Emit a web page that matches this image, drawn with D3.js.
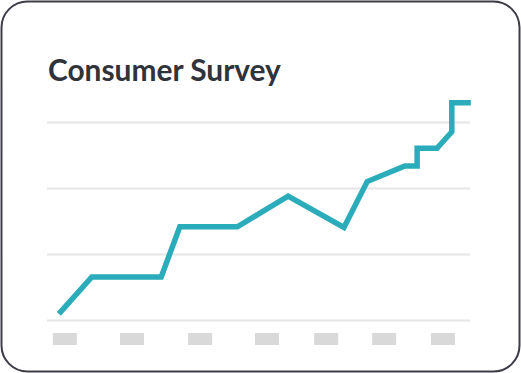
<!DOCTYPE html>
<html lang="en">
<head>
<meta charset="UTF-8">
<title>Consumer Survey</title>
<style>
  html, body { margin: 0; padding: 0; background: #fff; }
  svg { display: block; }
</style>
</head>
<body>
<svg id="chart" width="521" height="373"></svg>
<script src="https://cdnjs.cloudflare.com/ajax/libs/d3/7.8.5/d3.min.js"></script>
<script>
// values (x on a 0..100 time scale, y on a 0..100 score scale)
let xs     = [2.8, 10.6, 27, 31.4, 45, 57, 70.2, 75.7, 84.6, 87.5, 87.5, 92.2, 95.7, 95.7, 100.2];
let scores = [22, 33.2, 33.2, 48.4, 48.4, 57.7, 48.2, 62.1, 66.8, 66.8, 72.2, 72.2, 77.2, 86, 86];
let gridValues = [20, 40, 60, 80];
// placeholder x labels (empty grey blocks)
let labelPos = [4.2, 20.1, 36.2, 52, 66, 79.7, 93.6];
let title = "Consumer Survey";

let width = 521, height = 373;
let svg = d3.select("#chart");

// card
svg.append("rect")
  .attr("x", 1.5).attr("y", 1.5)
  .attr("width", width - 3).attr("height", height - 3)
  .attr("rx", 26).attr("ry", 26)
  .attr("fill", "#fff")
  .attr("stroke", "#3d3c47")
  .attr("stroke-width", 2);

let x = d3.scaleLinear().domain([0, 100]).range([47, 470]);
let y = d3.scaleLinear().domain([20, 80]).range([320.5, 122.5]);

// gridlines
svg.append("g")
  .selectAll("line")
  .data(gridValues)
  .enter()
  .append("line")
  .attr("x1", x(0)).attr("x2", x(100))
  .attr("y1", d => y(d)).attr("y2", d => y(d))
  .attr("stroke", "#e6e6e6")
  .attr("stroke-width", 2);

// label placeholders
svg.append("g")
  .selectAll("rect")
  .data(labelPos)
  .enter()
  .append("rect")
  .attr("x", d => x(d) - 12)
  .attr("y", 333)
  .attr("width", 24)
  .attr("height", 12)
  .attr("fill", "#d9d9d9");

// line
let pts = xs.map((v, i) => [v, scores[i]]);
let line = d3.line()
  .x(d => x(d[0]))
  .y(d => y(d[1]));

svg.append("path")
  .attr("d", line(pts))
  .attr("fill", "none")
  .attr("stroke", "#2aacbb")
  .attr("stroke-width", 5.5)
  .attr("stroke-linejoin", "miter")
  .attr("stroke-linecap", "butt");

// title
let t = svg.append("text")
  .attr("x", 48)
  .attr("y", 81)
  .attr("font-family", "Lato, 'Open Sans', sans-serif")
  .attr("font-weight", 700)
  .attr("font-size", 30)
  .attr("fill", "#30333a")
  .text(title);

let w = t.node().getComputedTextLength();
t.attr("font-size", 30 * 233 / w);
</script>
</body>
</html>
